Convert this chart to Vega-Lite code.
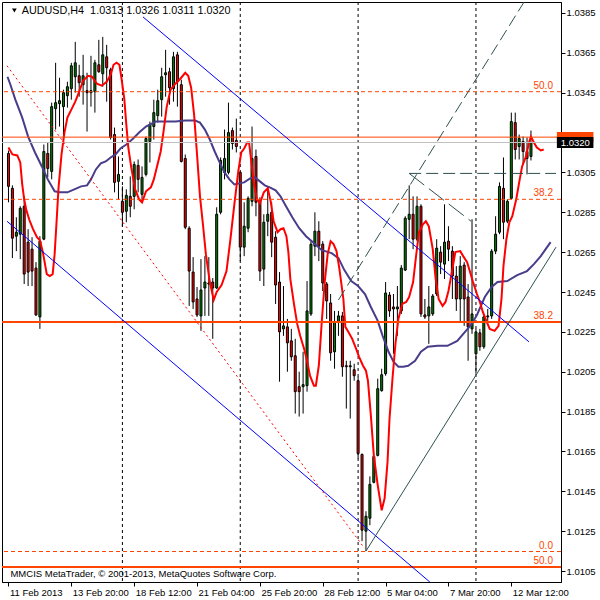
{
"$schema":"https://vega.github.io/schema/vega-lite/v6.json",
"width":559,"height":580,
"autosize":"none",
"padding":{"left":2,"top":2,"right":39,"bottom":18},
"background":"white",
"config":{"view":{"stroke":"black","strokeWidth":1},"font":"Liberation Sans",
"axis":{"labelFont":"Liberation Sans","labelFontSize":9.5,"labelColor":"black","domainColor":"black","tickColor":"black","grid":false}},
"datasets":{
"candles":[
{"i":1,"o":1.03145,"h":1.0316,"l":1.029,"c":1.0298},
{"i":2,"o":1.0297,"h":1.02985,"l":1.0262,"c":1.0272},
{"i":3,"o":1.0273,"h":1.02825,"l":1.02655,"c":1.0275},
{"i":4,"o":1.0274,"h":1.0288,"l":1.02615,"c":1.0287},
{"i":5,"o":1.0288,"h":1.0293,"l":1.0249,"c":1.0254},
{"i":6,"o":1.027,"h":1.02765,"l":1.0248,"c":1.0255},
{"i":7,"o":1.02665,"h":1.02725,"l":1.0248,"c":1.02555},
{"i":8,"o":1.0257,"h":1.026,"l":1.0233,"c":1.02335},
{"i":9,"o":1.02325,"h":1.0273,"l":1.02265,"c":1.02705},
{"i":10,"o":1.02715,"h":1.0319,"l":1.0271,"c":1.03155},
{"i":11,"o":1.03145,"h":1.032,"l":1.03025,"c":1.0307},
{"i":12,"o":1.03055,"h":1.034,"l":1.03015,"c":1.0338},
{"i":13,"o":1.0337,"h":1.036,"l":1.03265,"c":1.034},
{"i":14,"o":1.03395,"h":1.03525,"l":1.0328,"c":1.0341},
{"i":15,"o":1.0338,"h":1.03465,"l":1.03215,"c":1.0345},
{"i":16,"o":1.03435,"h":1.03505,"l":1.03375,"c":1.0348},
{"i":17,"o":1.0347,"h":1.036,"l":1.03415,"c":1.03585},
{"i":18,"o":1.0353,"h":1.03705,"l":1.0345,"c":1.036},
{"i":19,"o":1.03535,"h":1.0359,"l":1.0343,"c":1.035},
{"i":20,"o":1.0349,"h":1.0364,"l":1.0339,"c":1.03535},
{"i":21,"o":1.0346,"h":1.0355,"l":1.03255,"c":1.0345},
{"i":22,"o":1.0345,"h":1.03635,"l":1.0338,"c":1.0346},
{"i":23,"o":1.03455,"h":1.03615,"l":1.0335,"c":1.036},
{"i":24,"o":1.0359,"h":1.03715,"l":1.0355,"c":1.03555},
{"i":25,"o":1.03545,"h":1.0373,"l":1.0348,"c":1.0364},
{"i":26,"o":1.0363,"h":1.0369,"l":1.03405,"c":1.03575},
{"i":27,"o":1.03565,"h":1.03575,"l":1.03215,"c":1.03225},
{"i":28,"o":1.0324,"h":1.03275,"l":1.0295,"c":1.03},
{"i":29,"o":1.03005,"h":1.0313,"l":1.02915,"c":1.0304},
{"i":30,"o":1.02905,"h":1.0298,"l":1.0278,"c":1.0285},
{"i":31,"o":1.02855,"h":1.02965,"l":1.028,"c":1.02935},
{"i":32,"o":1.0293,"h":1.0303,"l":1.02825,"c":1.0288},
{"i":33,"o":1.0293,"h":1.03105,"l":1.02865,"c":1.0309},
{"i":34,"o":1.03085,"h":1.03115,"l":1.0295,"c":1.03015},
{"i":35,"o":1.0294,"h":1.0308,"l":1.029,"c":1.03025},
{"i":36,"o":1.0304,"h":1.0323,"l":1.0303,"c":1.0322},
{"i":37,"o":1.03205,"h":1.03305,"l":1.031,"c":1.0329},
{"i":38,"o":1.0328,"h":1.03415,"l":1.03215,"c":1.0335},
{"i":39,"o":1.03335,"h":1.03465,"l":1.033,"c":1.0341},
{"i":40,"o":1.03415,"h":1.03575,"l":1.0333,"c":1.0353},
{"i":41,"o":1.0354,"h":1.03665,"l":1.0343,"c":1.0355},
{"i":42,"o":1.03555,"h":1.03575,"l":1.0339,"c":1.03475},
{"i":43,"o":1.0347,"h":1.03655,"l":1.03405,"c":1.0363},
{"i":44,"o":1.0364,"h":1.03655,"l":1.0338,"c":1.03505},
{"i":45,"o":1.0349,"h":1.03515,"l":1.031,"c":1.03105},
{"i":46,"o":1.0312,"h":1.0314,"l":1.02765,"c":1.02775},
{"i":47,"o":1.0277,"h":1.0278,"l":1.0238,"c":1.02555},
{"i":48,"o":1.0255,"h":1.02625,"l":1.02365,"c":1.024},
{"i":49,"o":1.02415,"h":1.02475,"l":1.02325,"c":1.02335},
{"i":50,"o":1.0233,"h":1.02615,"l":1.02255,"c":1.0246},
{"i":51,"o":1.0247,"h":1.0263,"l":1.0233,"c":1.025},
{"i":52,"o":1.0249,"h":1.02625,"l":1.0233,"c":1.02495},
{"i":53,"o":1.025,"h":1.0252,"l":1.02215,"c":1.0247},
{"i":54,"o":1.0247,"h":1.02875,"l":1.02465,"c":1.0284},
{"i":55,"o":1.0285,"h":1.03125,"l":1.0284,"c":1.0311},
{"i":56,"o":1.0305,"h":1.03265,"l":1.03015,"c":1.0312},
{"i":57,"o":1.0305,"h":1.034,"l":1.0304,"c":1.0325},
{"i":58,"o":1.0326,"h":1.03275,"l":1.03165,"c":1.03195},
{"i":59,"o":1.0321,"h":1.0332,"l":1.0315,"c":1.0318},
{"i":60,"o":1.0305,"h":1.03055,"l":1.02605,"c":1.02675},
{"i":61,"o":1.02675,"h":1.029,"l":1.0263,"c":1.0278},
{"i":62,"o":1.0277,"h":1.0293,"l":1.0275,"c":1.0292},
{"i":63,"o":1.02905,"h":1.0328,"l":1.0288,"c":1.0312},
{"i":64,"o":1.0313,"h":1.03165,"l":1.0283,"c":1.029},
{"i":65,"o":1.02905,"h":1.02925,"l":1.02505,"c":1.02555},
{"i":66,"o":1.02565,"h":1.0284,"l":1.0248,"c":1.028},
{"i":67,"o":1.02805,"h":1.0298,"l":1.0273,"c":1.0284},
{"i":68,"o":1.0285,"h":1.029,"l":1.02625,"c":1.027},
{"i":69,"o":1.02725,"h":1.02755,"l":1.0239,"c":1.02485},
{"i":70,"o":1.025,"h":1.0255,"l":1.02,"c":1.0225},
{"i":71,"o":1.02265,"h":1.0248,"l":1.0223,"c":1.0228},
{"i":72,"o":1.02275,"h":1.02315,"l":1.0205,"c":1.02195},
{"i":73,"o":1.02205,"h":1.02265,"l":1.02105,"c":1.02125},
{"i":74,"o":1.0213,"h":1.02215,"l":1.0184,"c":1.0195},
{"i":75,"o":1.01975,"h":1.0205,"l":1.01825,"c":1.0195},
{"i":76,"o":1.01975,"h":1.0215,"l":1.0184,"c":1.01985},
{"i":77,"o":1.0198,"h":1.02505,"l":1.0195,"c":1.02355},
{"i":78,"o":1.0234,"h":1.02705,"l":1.0233,"c":1.0269},
{"i":79,"o":1.0268,"h":1.0285,"l":1.0263,"c":1.02755},
{"i":80,"o":1.02755,"h":1.02805,"l":1.02605,"c":1.0268},
{"i":81,"o":1.0269,"h":1.02705,"l":1.02455,"c":1.02495},
{"i":82,"o":1.0249,"h":1.025,"l":1.02315,"c":1.02405},
{"i":83,"o":1.02395,"h":1.0244,"l":1.02105,"c":1.02145},
{"i":84,"o":1.0215,"h":1.02355,"l":1.02065,"c":1.023},
{"i":85,"o":1.023,"h":1.02355,"l":1.0223,"c":1.0233},
{"i":86,"o":1.0233,"h":1.0235,"l":1.02025,"c":1.02075},
{"i":87,"o":1.0208,"h":1.02105,"l":1.01865,"c":1.02075},
{"i":88,"o":1.02075,"h":1.02105,"l":1.01815,"c":1.0208},
{"i":89,"o":1.0206,"h":1.0209,"l":1.02005,"c":1.0203},
{"i":90,"o":1.02005,"h":1.02025,"l":1.01615,"c":1.0164},
{"i":91,"o":1.01635,"h":1.0164,"l":1.012,"c":1.01255},
{"i":92,"o":1.0125,"h":1.0135,"l":1.0115,"c":1.01325},
{"i":93,"o":1.01315,"h":1.01525,"l":1.0128,"c":1.01485},
{"i":94,"o":1.01495,"h":1.0163,"l":1.0149,"c":1.01625},
{"i":95,"o":1.0163,"h":1.02015,"l":1.01625,"c":1.01965},
{"i":96,"o":1.01955,"h":1.02065,"l":1.0195,"c":1.02035},
{"i":97,"o":1.0204,"h":1.025,"l":1.0203,"c":1.02445},
{"i":98,"o":1.02435,"h":1.0245,"l":1.02325,"c":1.02355},
{"i":99,"o":1.02375,"h":1.0244,"l":1.0214,"c":1.02365},
{"i":100,"o":1.02365,"h":1.0248,"l":1.0223,"c":1.02375},
{"i":101,"o":1.02355,"h":1.02585,"l":1.0234,"c":1.0257},
{"i":102,"o":1.0256,"h":1.0283,"l":1.02555,"c":1.0282},
{"i":103,"o":1.02815,"h":1.02985,"l":1.02715,"c":1.0284},
{"i":104,"o":1.0284,"h":1.0293,"l":1.02665,"c":1.02715},
{"i":105,"o":1.02715,"h":1.0293,"l":1.02705,"c":1.0288},
{"i":106,"o":1.0288,"h":1.0289,"l":1.02325,"c":1.0234},
{"i":107,"o":1.02335,"h":1.02415,"l":1.02315,"c":1.02325},
{"i":108,"o":1.0233,"h":1.0248,"l":1.0219,"c":1.02375},
{"i":109,"o":1.0234,"h":1.0244,"l":1.0233,"c":1.0243},
{"i":110,"o":1.0244,"h":1.02715,"l":1.0243,"c":1.0267},
{"i":111,"o":1.0265,"h":1.0268,"l":1.0254,"c":1.026},
{"i":112,"o":1.0259,"h":1.0289,"l":1.02515,"c":1.027},
{"i":113,"o":1.02705,"h":1.0278,"l":1.02605,"c":1.02665},
{"i":114,"o":1.02655,"h":1.0268,"l":1.02415,"c":1.0253},
{"i":115,"o":1.0253,"h":1.0258,"l":1.02355,"c":1.02415},
{"i":116,"o":1.02415,"h":1.0263,"l":1.023,"c":1.0258},
{"i":117,"o":1.02585,"h":1.026,"l":1.0228,"c":1.02415},
{"i":118,"o":1.02425,"h":1.0249,"l":1.02105,"c":1.02275},
{"i":119,"o":1.02265,"h":1.02815,"l":1.0224,"c":1.0234},
{"i":120,"o":1.0214,"h":1.02265,"l":1.0204,"c":1.0225},
{"i":121,"o":1.02245,"h":1.02265,"l":1.02155,"c":1.02175},
{"i":122,"o":1.02175,"h":1.0234,"l":1.02165,"c":1.02325},
{"i":123,"o":1.0233,"h":1.02365,"l":1.02305,"c":1.02325},
{"i":124,"o":1.0233,"h":1.02665,"l":1.02315,"c":1.02655},
{"i":125,"o":1.02655,"h":1.0283,"l":1.0264,"c":1.0274},
{"i":126,"o":1.0275,"h":1.03,"l":1.0274,"c":1.0298},
{"i":127,"o":1.0297,"h":1.03125,"l":1.02715,"c":1.028},
{"i":128,"o":1.02805,"h":1.02915,"l":1.02795,"c":1.02905},
{"i":129,"o":1.0292,"h":1.0335,"l":1.02915,"c":1.03305},
{"i":130,"o":1.033,"h":1.0335,"l":1.03115,"c":1.03165},
{"i":131,"o":1.0318,"h":1.0324,"l":1.03115,"c":1.0322},
{"i":132,"o":1.03205,"h":1.0323,"l":1.0309,"c":1.03155},
{"i":133,"o":1.03155,"h":1.03225,"l":1.0304,"c":1.0312},
{"i":134,"o":1.0313,"h":1.0326,"l":1.0311,"c":1.032}
],
"mared":[
{"i":1,"p":1.03175},{"i":2,"p":1.0314},{"i":3.25,"p":1.03135},{"i":4,"p":1.031},{"i":4.5,"p":1.0299},{"i":5,"p":1.02915},{"i":5.5,"p":1.02865},{"i":6.25,"p":1.02815},{"i":7.25,"p":1.02765},{"i":8.25,"p":1.02725},{"i":9,"p":1.0271},{"i":9.75,"p":1.0265},{"i":10.75,"p":1.0254},{"i":11.5,"p":1.0253},{"i":12.25,"p":1.0254},{"i":12.75,"p":1.0264},{"i":13.25,"p":1.02805},{"i":13.75,"p":1.02975},{"i":14.5,"p":1.0314},{"i":15.25,"p":1.0325},{"i":16,"p":1.03325},{"i":17,"p":1.03365},{"i":18,"p":1.03405},{"i":19,"p":1.03455},{"i":20,"p":1.0351},{"i":21.25,"p":1.03535},{"i":22.25,"p":1.0353},{"i":23.5,"p":1.03495},{"i":24.75,"p":1.03485},{"i":26,"p":1.03505},{"i":27,"p":1.0354},{"i":27.75,"p":1.0359},{"i":28.5,"p":1.036},{"i":29.25,"p":1.0359},{"i":29.75,"p":1.03525},{"i":30.5,"p":1.03415},{"i":31,"p":1.0329},{"i":31.5,"p":1.03175},{"i":32.25,"p":1.03075},{"i":33.25,"p":1.02965},{"i":34.25,"p":1.02915},{"i":35,"p":1.029},{"i":36,"p":1.02955},{"i":37.25,"p":1.02975},{"i":38,"p":1.03015},{"i":38.75,"p":1.03075},{"i":39.75,"p":1.03155},{"i":40.5,"p":1.0326},{"i":41.25,"p":1.03375},{"i":42.25,"p":1.03465},{"i":43.5,"p":1.03495},{"i":44.75,"p":1.0352},{"i":46,"p":1.0355},{"i":46.75,"p":1.03535},{"i":47.5,"p":1.03475},{"i":48.25,"p":1.0334},{"i":49,"p":1.0314},{"i":49.75,"p":1.0293},{"i":50.5,"p":1.0279},{"i":51.25,"p":1.0264},{"i":52.25,"p":1.025},{"i":53.25,"p":1.0241},{"i":54,"p":1.0245},{"i":55.25,"p":1.02485},{"i":56.5,"p":1.02555},{"i":57.5,"p":1.02715},{"i":58.5,"p":1.0289},{"i":59.5,"p":1.03055},{"i":60.25,"p":1.0315},{"i":61,"p":1.0317},{"i":61.75,"p":1.032},{"i":62.25,"p":1.032},{"i":62.75,"p":1.03115},{"i":63.5,"p":1.0299},{"i":64.25,"p":1.02915},{"i":65,"p":1.02895},{"i":66,"p":1.0295},{"i":67,"p":1.0297},{"i":67.75,"p":1.02905},{"i":68.5,"p":1.02805},{"i":69.5,"p":1.0275},{"i":70.25,"p":1.02765},{"i":71,"p":1.0277},{"i":71.75,"p":1.0273},{"i":72.25,"p":1.0265},{"i":72.75,"p":1.02515},{"i":73.75,"p":1.0238},{"i":74.5,"p":1.0229},{"i":75.25,"p":1.0223},{"i":76.25,"p":1.02165},{"i":77,"p":1.02105},{"i":77.75,"p":1.0203},{"i":78.75,"p":1.0198},{"i":79.25,"p":1.0198},{"i":80,"p":1.0208},{"i":80.75,"p":1.023},{"i":81.5,"p":1.025},{"i":82.25,"p":1.0264},{"i":83,"p":1.02705},{"i":83.75,"p":1.0269},{"i":84.5,"p":1.02655},{"i":85.25,"p":1.02565},{"i":86.25,"p":1.02415},{"i":86.75,"p":1.02275},{"i":87.5,"p":1.0225},{"i":88.5,"p":1.02215},{"i":89.5,"p":1.02165},{"i":90.25,"p":1.02125},{"i":91.25,"p":1.0208},{"i":92,"p":1.02055},{"i":92.5,"p":1.02005},{"i":93.25,"p":1.0183},{"i":94,"p":1.0163},{"i":95,"p":1.0148},{"i":96,"p":1.01355},{"i":96.75,"p":1.01415},{"i":97.5,"p":1.016},{"i":98,"p":1.01815},{"i":98.75,"p":1.02015},{"i":99.5,"p":1.0219},{"i":100.25,"p":1.02315},{"i":101.25,"p":1.0239},{"i":102.25,"p":1.024},{"i":103,"p":1.02425},{"i":104,"p":1.025},{"i":104.75,"p":1.0263},{"i":105.5,"p":1.0275},{"i":106.5,"p":1.0279},{"i":107.25,"p":1.02805},{"i":108,"p":1.0278},{"i":109,"p":1.02665},{"i":109.75,"p":1.02515},{"i":110.5,"p":1.02415},{"i":111.5,"p":1.0238},{"i":112.25,"p":1.024},{"i":113,"p":1.02455},{"i":114,"p":1.02565},{"i":114.75,"p":1.0265},{"i":116,"p":1.02655},{"i":116.75,"p":1.0263},{"i":117.75,"p":1.026},{"i":118.5,"p":1.0255},{"i":119.25,"p":1.025},{"i":120.25,"p":1.0244},{"i":121,"p":1.024},{"i":121.75,"p":1.0235},{"i":122.75,"p":1.023},{"i":123.5,"p":1.02265},{"i":124.75,"p":1.02255},{"i":125.75,"p":1.0228},{"i":126.5,"p":1.02415},{"i":127,"p":1.0258},{"i":127.75,"p":1.02715},{"i":128.5,"p":1.028},{"i":129.25,"p":1.0283},{"i":130.25,"p":1.02915},{"i":131,"p":1.03},{"i":131.75,"p":1.0308},{"i":132.75,"p":1.0313},{"i":133.5,"p":1.032},{"i":134,"p":1.0323},{"i":134.75,"p":1.032},{"i":135.5,"p":1.03175},{"i":136.5,"p":1.0316},{"i":137.25,"p":1.03165}
],
"mablue":[
{"i":0.75,"p":1.0353},{"i":1.5,"p":1.0349},{"i":2.75,"p":1.03415},{"i":4.5,"p":1.03325},{"i":6,"p":1.0323},{"i":7.75,"p":1.0315},{"i":9.5,"p":1.0308},{"i":11,"p":1.03015},{"i":12.75,"p":1.02955},{"i":14,"p":1.0295},{"i":16,"p":1.0295},{"i":17.75,"p":1.02965},{"i":19.5,"p":1.0298},{"i":21,"p":1.02985},{"i":22,"p":1.03015},{"i":23.25,"p":1.03065},{"i":24.5,"p":1.03095},{"i":25.75,"p":1.03105},{"i":27,"p":1.03125},{"i":28.25,"p":1.0314},{"i":29.5,"p":1.0317},{"i":31,"p":1.0319},{"i":32.75,"p":1.0322},{"i":34.25,"p":1.0325},{"i":36,"p":1.0328},{"i":38.5,"p":1.03305},{"i":41,"p":1.03305},{"i":43.5,"p":1.03305},{"i":46,"p":1.0331},{"i":48.5,"p":1.0331},{"i":49.75,"p":1.033},{"i":51,"p":1.03265},{"i":52.25,"p":1.03215},{"i":53.5,"p":1.03155},{"i":54.75,"p":1.031},{"i":56,"p":1.0305},{"i":57.25,"p":1.03015},{"i":58.5,"p":1.0299},{"i":59.75,"p":1.02995},{"i":61,"p":1.03},{"i":62.5,"p":1.0302},{"i":63.75,"p":1.03025},{"i":65,"p":1.03005},{"i":66.25,"p":1.02985},{"i":67.5,"p":1.02975},{"i":69,"p":1.0296},{"i":70.25,"p":1.0293},{"i":71.5,"p":1.02885},{"i":73.25,"p":1.02825},{"i":75,"p":1.0277},{"i":76.75,"p":1.0273},{"i":78.5,"p":1.027},{"i":80.75,"p":1.0266},{"i":83.25,"p":1.02645},{"i":85,"p":1.0262},{"i":86.5,"p":1.0256},{"i":88.25,"p":1.02505},{"i":90,"p":1.0248},{"i":91.75,"p":1.0244},{"i":93.25,"p":1.02375},{"i":95,"p":1.02305},{"i":96.25,"p":1.0223},{"i":97.75,"p":1.0215},{"i":99,"p":1.021},{"i":100.25,"p":1.02075},{"i":101.5,"p":1.02075},{"i":102.75,"p":1.0208},{"i":104.5,"p":1.02105},{"i":106,"p":1.0215},{"i":107.75,"p":1.02175},{"i":110.25,"p":1.0218},{"i":112.75,"p":1.0218},{"i":115.25,"p":1.02205},{"i":117,"p":1.02245},{"i":118.75,"p":1.02285},{"i":120.25,"p":1.02335},{"i":122.25,"p":1.02425},{"i":124,"p":1.02475},{"i":125.5,"p":1.025},{"i":128,"p":1.02505},{"i":130.5,"p":1.02535},{"i":133,"p":1.02555},{"i":134.75,"p":1.0259},{"i":136.5,"p":1.0263},{"i":137.75,"p":1.02665},{"i":139,"p":1.027}
],
"lines":[
{"kind":"blue","i":35.25,"p":1.0383,"i2":133.5,"p2":1.022},
{"kind":"blue","i":0.625,"p":1.02805,"i2":108.25,"p2":1.00995},
{"kind":"reddot","i":0.625,"p":1.03585,"i2":91.6,"p2":1.01165},
{"kind":"graydash","i":85,"p":1.0241,"i2":132.25,"p2":1.03905},
{"kind":"graydash","i":103,"p":1.03045,"i2":140.375,"p2":1.03045},
{"kind":"graydash2","i":103,"p":1.03045,"i2":118.75,"p2":1.02805},
{"kind":"gray","i":92,"p":1.0115,"i2":140.375,"p2":1.02675}
],
"fib":[
{"p":1.03455,"lab":"50.0","st":"dash"},
{"p":1.02915,"lab":"38.2","st":"dash"},
{"p":1.01148,"lab":"0.0","st":"dash"},
{"p":1.023,"lab":"38.2","st":"solid"},
{"p":1.0107,"lab":"50.0","st":"solid"}
]
},
"layer":[
{"data":{"values":[{"i":30},{"i":60},{"i":90},{"i":120}]},
 "mark":{"type":"rule","color":"black","strokeDash":[3,3],"strokeWidth":1},
 "encoding":{"x":{"field":"i","type":"quantitative","scale":{"domain":[0.625,140.375],"nice":false,"zero":false},
   "axis":{"values":[1,17,33,49,65,81,97,113,129],
     "labelExpr":"['11 Feb 2013','13 Feb 20:00','18 Feb 12:00','21 Feb 04:00','25 Feb 20:00','28 Feb 12:00','5 Mar 04:00','7 Mar 20:00','12 Mar 12:00'][round((datum.value-1)/16)]",
     "labelAlign":"left","labelBaseline":"top","labelPadding":1,"labelOffset":1,"tickSize":4,"labelFlush":false,"labelOverlap":false,"title":null}}}},
{"data":{"name":"candles"},
 "mark":{"type":"rule","color":"black","strokeWidth":1},
 "encoding":{"x":{"field":"i","type":"quantitative","scale":{"domain":[0.625,140.375],"nice":false,"zero":false}},
   "y":{"field":"l","type":"quantitative","scale":{"domain":[1.00995,1.03905],"nice":false,"zero":false},
     "axis":{"orient":"right","values":[1.0105,1.0125,1.0145,1.0165,1.0185,1.0205,1.0225,1.0245,1.0265,1.0285,1.0305,1.0345,1.0365,1.0385],"format":".4f","tickSize":4,"labelPadding":1,"title":null}},
   "y2":{"field":"h"}}},
{"data":{"name":"candles"},
 "mark":{"type":"bar","size":2,"stroke":"black","strokeWidth":1},
 "encoding":{"x":{"field":"i","type":"quantitative","scale":{"domain":[0.625,140.375],"nice":false,"zero":false}},
   "y":{"field":"o","type":"quantitative","scale":{"domain":[1.00995,1.03905],"nice":false,"zero":false}},
   "y2":{"field":"c"},
   "color":{"condition":{"test":"datum.c >= datum.o","value":"#008000"},"value":"#FF0000"}}},
{"data":{"name":"mablue"},
 "mark":{"type":"line","color":"#483D8B","strokeWidth":2,"clip":true},
 "encoding":{"x":{"field":"i","type":"quantitative","scale":{"domain":[0.625,140.375],"nice":false,"zero":false}},
   "y":{"field":"p","type":"quantitative","scale":{"domain":[1.00995,1.03905],"nice":false,"zero":false}}}},
{"data":{"name":"mared"},
 "mark":{"type":"line","color":"#FF0000","strokeWidth":2,"clip":true},
 "encoding":{"x":{"field":"i","type":"quantitative","scale":{"domain":[0.625,140.375],"nice":false,"zero":false}},
   "y":{"field":"p","type":"quantitative","scale":{"domain":[1.00995,1.03905],"nice":false,"zero":false}}}},
{"data":{"name":"fib"},"transform":[{"filter":"datum.st == 'dash'"}],
 "mark":{"type":"rule","color":"#FF4500","strokeWidth":1,"strokeDash":[4,3]},
 "encoding":{"y":{"field":"p","type":"quantitative","scale":{"domain":[1.00995,1.03905],"nice":false,"zero":false}}}},
{"data":{"name":"fib"},"transform":[{"filter":"datum.st == 'solid'"}],
 "mark":{"type":"rule","color":"#FF4500","strokeWidth":2},
 "encoding":{"y":{"field":"p","type":"quantitative","scale":{"domain":[1.00995,1.03905],"nice":false,"zero":false}}}},
{"data":{"values":[{"p":1.0320}]},
 "mark":{"type":"rule","color":"#C0C0C0","strokeWidth":1},
 "encoding":{"y":{"field":"p","type":"quantitative","scale":{"domain":[1.00995,1.03905],"nice":false,"zero":false}}}},
{"data":{"values":[{"p":1.03227}]},
 "mark":{"type":"rule","color":"#FF4500","strokeWidth":1},
 "encoding":{"y":{"field":"p","type":"quantitative","scale":{"domain":[1.00995,1.03905],"nice":false,"zero":false}}}},
{"data":{"name":"lines"},"transform":[{"filter":"datum.kind == 'blue'"}],
 "mark":{"type":"rule","color":"#0000FF","strokeWidth":1,"clip":true},
 "encoding":{"x":{"field":"i","type":"quantitative","scale":{"domain":[0.625,140.375],"nice":false,"zero":false}},
   "y":{"field":"p","type":"quantitative","scale":{"domain":[1.00995,1.03905],"nice":false,"zero":false}},
   "x2":{"field":"i2"},"y2":{"field":"p2"}}},
{"data":{"name":"lines"},"transform":[{"filter":"datum.kind == 'reddot'"}],
 "mark":{"type":"rule","color":"#FF0000","strokeWidth":1,"strokeDash":[2,3],"clip":true},
 "encoding":{"x":{"field":"i","type":"quantitative","scale":{"domain":[0.625,140.375],"nice":false,"zero":false}},
   "y":{"field":"p","type":"quantitative","scale":{"domain":[1.00995,1.03905],"nice":false,"zero":false}},
   "x2":{"field":"i2"},"y2":{"field":"p2"}}},
{"data":{"name":"lines"},"transform":[{"filter":"datum.kind == 'graydash'"}],
 "mark":{"type":"rule","color":"#2F4F4F","strokeWidth":1,"strokeDash":[12,5],"clip":true},
 "encoding":{"x":{"field":"i","type":"quantitative","scale":{"domain":[0.625,140.375],"nice":false,"zero":false}},
   "y":{"field":"p","type":"quantitative","scale":{"domain":[1.00995,1.03905],"nice":false,"zero":false}},
   "x2":{"field":"i2"},"y2":{"field":"p2"}}},
{"data":{"name":"lines"},"transform":[{"filter":"datum.kind == 'graydash2'"}],
 "mark":{"type":"rule","color":"#2F4F4F","strokeWidth":1,"strokeDash":[19,6],"clip":true},
 "encoding":{"x":{"field":"i","type":"quantitative","scale":{"domain":[0.625,140.375],"nice":false,"zero":false}},
   "y":{"field":"p","type":"quantitative","scale":{"domain":[1.00995,1.03905],"nice":false,"zero":false}},
   "x2":{"field":"i2"},"y2":{"field":"p2"}}},
{"data":{"name":"lines"},"transform":[{"filter":"datum.kind == 'gray'"}],
 "mark":{"type":"rule","color":"#2F4F4F","strokeWidth":1,"clip":true},
 "encoding":{"x":{"field":"i","type":"quantitative","scale":{"domain":[0.625,140.375],"nice":false,"zero":false}},
   "y":{"field":"p","type":"quantitative","scale":{"domain":[1.00995,1.03905],"nice":false,"zero":false}},
   "x2":{"field":"i2"},"y2":{"field":"p2"}}},
{"data":{"name":"fib"},
 "mark":{"type":"text","color":"#FF4500","font":"Liberation Sans","fontSize":10,"align":"right","baseline":"bottom","dy":-1},
 "encoding":{"x":{"datum":139.6,"type":"quantitative","scale":{"domain":[0.625,140.375],"nice":false,"zero":false}},
   "y":{"field":"p","type":"quantitative","scale":{"domain":[1.00995,1.03905],"nice":false,"zero":false}},
   "text":{"field":"lab"}}},
{"data":{"values":[{"t":"AUDUSD,H4\u00a0 1.0313 1.0326 1.0311 1.0320"}]},
 "mark":{"type":"text","color":"black","font":"Liberation Sans","fontSize":10.8,"align":"left","baseline":"middle"},
 "encoding":{"x":{"datum":4.375,"type":"quantitative","scale":{"domain":[0.625,140.375],"nice":false,"zero":false}},
   "y":{"datum":1.0386,"type":"quantitative","scale":{"domain":[1.00995,1.03905],"nice":false,"zero":false}},
   "text":{"field":"t"}}},
{"data":{"values":[{"t":"x"}]},
 "mark":{"type":"point","shape":"triangle-down","filled":true,"color":"black","size":22,"opacity":1},
 "encoding":{"x":{"datum":2.5,"type":"quantitative","scale":{"domain":[0.625,140.375],"nice":false,"zero":false}},
   "y":{"datum":1.03862,"type":"quantitative","scale":{"domain":[1.00995,1.03905],"nice":false,"zero":false}}}},
{"data":{"values":[{"t":"MMCIS MetaTrader, © 2001-2013, MetaQuotes Software Corp."}]},
 "mark":{"type":"text","color":"black","font":"Liberation Sans","fontSize":9.5,"align":"left","baseline":"middle"},
 "encoding":{"x":{"datum":1.5,"type":"quantitative","scale":{"domain":[0.625,140.375],"nice":false,"zero":false}},
   "y":{"datum":1.01035,"type":"quantitative","scale":{"domain":[1.00995,1.03905],"nice":false,"zero":false}},
   "text":{"field":"t"}}},
{"data":{"values":[{"t":"x"}]},
 "mark":{"type":"rect","color":"#FF4500","clip":false},
 "encoding":{"x":{"datum":140.6,"type":"quantitative","scale":{"domain":[0.625,140.375],"nice":false,"zero":false}},
   "x2":{"datum":149.9},
   "y":{"datum":1.03253,"type":"quantitative","scale":{"domain":[1.00995,1.03905],"nice":false,"zero":false}},
   "y2":{"datum":1.03201}}},
{"data":{"values":[{"t":"1.0320"}]},
 "mark":{"type":"rect","color":"black","clip":false},
 "encoding":{"x":{"datum":140.6,"type":"quantitative","scale":{"domain":[0.625,140.375],"nice":false,"zero":false}},
   "x2":{"datum":149.9},
   "y":{"datum":1.03228,"type":"quantitative","scale":{"domain":[1.00995,1.03905],"nice":false,"zero":false}},
   "y2":{"datum":1.03173}}},
{"data":{"values":[{"t":"1.0320"}]},
 "mark":{"type":"text","color":"white","font":"Liberation Sans","fontSize":9.5,"align":"center","baseline":"middle","clip":false},
 "encoding":{"x":{"datum":145.3,"type":"quantitative","scale":{"domain":[0.625,140.375],"nice":false,"zero":false}},
   "y":{"datum":1.032,"type":"quantitative","scale":{"domain":[1.00995,1.03905],"nice":false,"zero":false}},
   "text":{"field":"t"}}}
]
}
